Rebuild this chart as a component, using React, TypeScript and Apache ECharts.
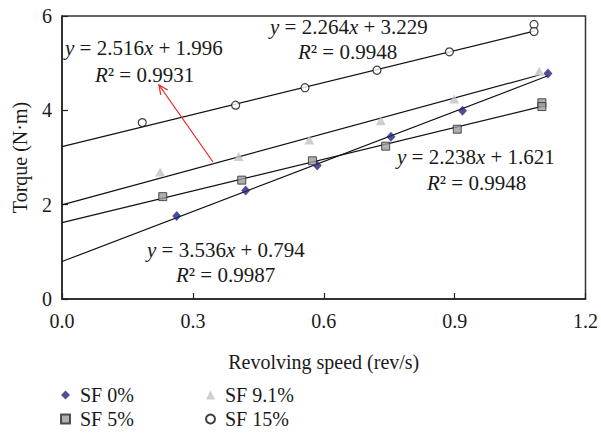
import React, { useEffect, useRef } from "react";
import * as echarts from "echarts";

const seriesNames = ["SF 0%", "SF 5%", "SF 9.1%", "SF 15%"];

const sf0X = [0.263, 0.421, 0.585, 0.754, 0.918, 1.114];
const sf0Y = [1.76, 2.3, 2.83, 3.44, 3.99, 4.78];
const sf5X = [0.231, 0.412, 0.574, 0.742, 0.906, 1.1, 1.1];
const sf5Y = [2.17, 2.52, 2.93, 3.24, 3.6, 4.16, 4.08];
const sf91X = [0.225, 0.405, 0.567, 0.731, 0.899, 1.094];
const sf91Y = [2.69, 3.02, 3.37, 3.78, 4.24, 4.83];
const sf15X = [0.184, 0.398, 0.557, 0.722, 0.888, 1.082, 1.082];
const sf15Y = [3.74, 4.11, 4.48, 4.85, 5.24, 5.82, 5.67];

const slopes = [3.536, 2.238, 2.516, 2.264];
const intercepts = [0.794, 1.621, 1.996, 3.229];
const r2Values = ["0.9987", "0.9948", "0.9931", "0.9948"];

const xTicks = [0, 0.3, 0.6, 0.9, 1.2];
const yTicks = [0, 2, 4, 6];

const FONT = "'Liberation Serif', 'Times New Roman', serif";

export default function App() {
  const ref = useRef<HTMLDivElement>(null);

  useEffect(() => {
    if (!ref.current) return;
    const chart = echarts.init(ref.current, undefined, { renderer: "svg" });

    const xs = [sf0X, sf5X, sf91X, sf15X];
    const ys = [sf0Y, sf5Y, sf91Y, sf15Y];
    const pts = xs.map((arr, i) => arr.map((x, j) => [x, ys[i][j]]));

    const symbols = ["diamond", "rect", "triangle", "circle"];
    const sizes: any[] = [[9, 10], 8, [10, 9], 8];
    const styles = [
      { color: "#23237a" },
      { color: "#9c9c9c", borderColor: "#2a2a2a", borderWidth: 1 },
      { color: "#c2c2c2" },
      { color: "#ffffff", borderColor: "#111111", borderWidth: 1.2 },
    ];

    const scatter = seriesNames.map((name, i) => ({
      name,
      type: "scatter",
      data: pts[i],
      symbol: symbols[i],
      symbolSize: sizes[i],
      itemStyle: styles[i],
      z: 3,
    }));

    const trend = seriesNames.map((name, i) => {
      const xmax = Math.max(...xs[i]);
      return {
        name: name + " trend",
        type: "line",
        data: [
          [0, intercepts[i]],
          [xmax, slopes[i] * xmax + intercepts[i]],
        ],
        symbol: "none",
        lineStyle: { color: "#111", width: 1.2 },
        silent: true,
        z: 2,
      };
    });

    const eqText = (i: number) =>
      `{i|y} = ${slopes[i].toFixed(3)}{i|x} + ${intercepts[i].toFixed(3)}`;
    const r2Text = (i: number) => `{i|R}² = ${r2Values[i]}`;
    const rich = { i: { fontStyle: "italic", fontFamily: FONT, fontSize: 21, fill: "#1a1a1a" } };
    const textEl = (x: number, y: number, text: string) => ({
      type: "text",
      x,
      y,
      z: 10,
      style: {
        text,
        fontFamily: FONT,
        fontSize: 21,
        fill: "#1a1a1a",
        textAlign: "left",
        textVerticalAlign: "middle",
        rich,
      },
    });

    const legendCommon = {
      orient: "vertical",
      padding: 0,
      itemWidth: 9,
      itemHeight: 9,
      itemGap: 4,
      textStyle: { fontFamily: FONT, fontSize: 20, color: "#1a1a1a", padding: [0, 0, 0, 5] },
      selectedMode: false,
    };

    chart.setOption({
      animation: false,
      backgroundColor: "#ffffff",
      grid: {
        left: 62,
        top: 16,
        right: 12,
        bottom: 135,
        show: true,
        borderColor: "#333",
        borderWidth: 1.5,
        backgroundColor: "transparent",
      },
      legend: [
        { ...legendCommon, data: [seriesNames[0], seriesNames[1]], left: 60, top: 385 },
        { ...legendCommon, data: [seriesNames[2], seriesNames[3]], left: 205, top: 385 },
      ],
      xAxis: {
        type: "value",
        min: xTicks[0],
        max: xTicks[xTicks.length - 1],
        interval: 0.3,
        name: "Revolving speed (rev/s)",
        nameLocation: "middle",
        nameGap: 53,
        nameTextStyle: { fontFamily: FONT, fontSize: 20, color: "#1a1a1a" },
        axisLine: { lineStyle: { color: "#222", width: 1.5 } },
        axisTick: { inside: true, length: 6, lineStyle: { color: "#222", width: 1.2 } },
        axisLabel: {
          formatter: (v: number) => v.toFixed(1),
          fontFamily: FONT,
          fontSize: 20,
          color: "#1a1a1a",
          margin: 12,
        },
        splitLine: { show: false },
      },
      yAxis: {
        type: "value",
        min: yTicks[0],
        max: yTicks[yTicks.length - 1],
        interval: 2,
        name: "Torque (N·m)",
        nameLocation: "middle",
        nameGap: 32,
        nameRotate: 90,
        nameTextStyle: { fontFamily: FONT, fontSize: 20, color: "#1a1a1a" },
        axisLine: { lineStyle: { color: "#222", width: 1.5 } },
        axisTick: { inside: true, length: 6, lineStyle: { color: "#222", width: 1.2 } },
        axisLabel: { fontFamily: FONT, fontSize: 20, color: "#1a1a1a", margin: 10 },
        splitLine: { show: false },
      },
      graphic: [
        textEl(270, 27, eqText(3)),
        textEl(298, 52, r2Text(3)),
        textEl(65, 48, eqText(2)),
        textEl(95, 75, r2Text(2)),
        textEl(397, 157, eqText(1)),
        textEl(427, 183, r2Text(1)),
        textEl(147, 250, eqText(0)),
        textEl(176, 275, r2Text(0)),
        {
          type: "line",
          z: 9,
          shape: { x1: 213, y1: 162, x2: 159, y2: 85 },
          style: { stroke: "#ee2222", lineWidth: 1.2 },
        },
        {
          type: "polyline",
          z: 9,
          shape: { points: [[160.7, 94.9], [159, 85], [167.7, 90]] },
          style: { stroke: "#ee2222", lineWidth: 1.2, fill: "none" },
        },
      ],
      series: [...trend, ...scatter],
    });

    return () => chart.dispose();
  }, []);

  return (
    <div
      ref={ref}
      style={{ position: "absolute", left: 0, top: 0, width: 601, height: 434 }}
    />
  );
}
